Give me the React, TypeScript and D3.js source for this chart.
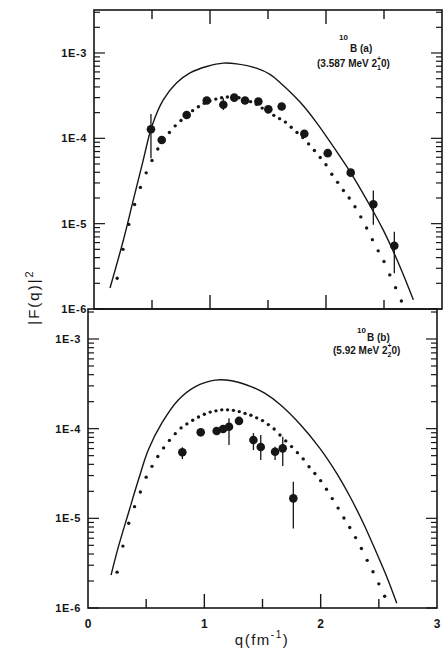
import React from 'react';
import * as d3 from 'd3';

const FONT = '"Liberation Sans Narrow", "Arial Narrow", "Liberation Sans", Arial, sans-serif';
const INK = '#161616';

// ---- panel (a): 10B, 3.587 MeV 2+ (1) 0 ----
// measured points, q in fm^-1 and |F(q)|^2
const aExpQ = [0.491, 0.584, 0.799, 0.972, 1.115, 1.209, 1.302, 1.417, 1.503, 1.618, 1.813, 2.015, 2.213, 2.408, 2.589];
const aExpF = [1.28e-4, 9.57e-5, 1.88e-4, 2.77e-4, 2.47e-4, 3.0e-4, 2.77e-4, 2.7e-4, 2.19e-4, 2.36e-4, 1.13e-4, 6.7e-5, 3.96e-5, 1.69e-5, 5.5e-6];
const aExpHi = [1.93e-4, null, null, null, 2.95e-4, null, null, null, null, null, null, null, null, 2.44e-5, 8.05e-6];
const aExpLo = [5.85e-5, null, null, null, 2.15e-4, null, null, null, null, null, null, null, null, 9.7e-6, 2.62e-6];

// solid calculation
const aSolidQ = [0.138, 0.253, 0.339, 0.425, 0.497, 0.597, 0.713, 0.828, 0.972, 1.115, 1.23, 1.40, 1.517, 1.603, 1.776, 1.92, 2.063, 2.207, 2.351, 2.494, 2.638, 2.753];
const aSolidF = [1.76e-6, 6.4e-6, 1.9e-5, 5.6e-5, 1.36e-4, 2.82e-4, 4.47e-4, 5.85e-4, 6.94e-4, 7.6e-4, 7.45e-4, 6.64e-4, 5.62e-4, 4.52e-4, 2.66e-4, 1.52e-4, 8.0e-5, 4.07e-5, 1.9e-5, 8.4e-6, 3.13e-6, 1.28e-6];

// dotted calculation
const aDotQ = [0.20, 0.25, 0.30, 0.35, 0.40, 0.45, 0.50, 0.55, 0.60, 0.65, 0.70, 0.75, 0.80, 0.85, 0.90, 0.95, 1.00, 1.05, 1.10, 1.15, 1.20, 1.25, 1.30, 1.35, 1.40, 1.45, 1.50, 1.55, 1.60, 1.65, 1.70, 1.75, 1.80, 1.85, 1.90, 1.95, 2.00, 2.05, 2.10, 2.15, 2.20, 2.25, 2.30, 2.35, 2.40, 2.45, 2.50, 2.55, 2.60, 2.65];
const aDotF = [2.29e-6, 5.0e-6, 9.8e-6, 1.68e-5, 2.66e-5, 3.94e-5, 5.5e-5, 7.5e-5, 9.55e-5, 1.17e-4, 1.40e-4, 1.62e-4, 1.88e-4, 2.11e-4, 2.34e-4, 2.57e-4, 2.75e-4, 2.88e-4, 2.99e-4, 3.05e-4, 3.05e-4, 2.99e-4, 2.85e-4, 2.69e-4, 2.51e-4, 2.26e-4, 2.04e-4, 1.86e-4, 1.70e-4, 1.55e-4, 1.35e-4, 1.17e-4, 1.02e-4, 8.6e-5, 7.2e-5, 5.96e-5, 4.9e-5, 3.8e-5, 3.05e-5, 2.45e-5, 2.0e-5, 1.58e-5, 1.2e-5, 8.9e-6, 6.5e-6, 4.8e-6, 3.6e-6, 2.51e-6, 1.78e-6, 1.24e-6];

// ---- panel (b): 10B, 5.92 MeV 2+ (2) 0 ----
const bExpQ = [0.811, 0.969, 1.106, 1.161, 1.212, 1.298, 1.422, 1.485, 1.608, 1.674, 1.765];
const bExpF = [5.45e-5, 9.1e-5, 9.4e-5, 9.9e-5, 1.05e-4, 1.22e-4, 7.46e-5, 6.24e-5, 5.52e-5, 6.03e-5, 1.67e-5];
const bExpHi = [6.2e-5, null, null, null, 1.31e-4, null, 8.9e-5, 8.5e-5, 6.3e-5, 8.1e-5, 2.56e-5];
const bExpLo = [4.6e-5, null, null, null, 6.56e-5, null, 5.77e-5, 4.47e-5, 4.47e-5, 3.83e-5, 7.7e-6];

const bSolidQ = [0.198, 0.261, 0.347, 0.433, 0.518, 0.634, 0.776, 0.920, 1.092, 1.236, 1.407, 1.522, 1.651, 1.823, 1.995, 2.138, 2.253, 2.367, 2.482, 2.568, 2.654];
const bSolidF = [2.33e-6, 4.8e-6, 1.14e-5, 2.67e-5, 5.77e-5, 1.15e-4, 2.09e-4, 2.93e-4, 3.48e-4, 3.42e-4, 2.93e-4, 2.47e-4, 1.86e-4, 1.12e-4, 6.0e-5, 3.18e-5, 1.74e-5, 8.8e-6, 4.07e-6, 2.23e-6, 1.13e-6];

const bDotQ = [0.25, 0.30, 0.35, 0.40, 0.45, 0.50, 0.55, 0.60, 0.65, 0.70, 0.75, 0.80, 0.85, 0.90, 0.95, 1.00, 1.05, 1.10, 1.15, 1.20, 1.25, 1.30, 1.35, 1.40, 1.45, 1.50, 1.55, 1.60, 1.65, 1.70, 1.75, 1.80, 1.85, 1.90, 1.95, 2.00, 2.05, 2.10, 2.15, 2.20, 2.25, 2.30, 2.35, 2.40, 2.45, 2.50, 2.55];
const bDotF = [2.51e-6, 4.9e-6, 8.8e-6, 1.35e-5, 1.97e-5, 2.88e-5, 3.8e-5, 4.9e-5, 6.1e-5, 7.4e-5, 8.8e-5, 1.02e-4, 1.13e-4, 1.24e-4, 1.35e-4, 1.45e-4, 1.53e-4, 1.58e-4, 1.62e-4, 1.62e-4, 1.60e-4, 1.55e-4, 1.48e-4, 1.41e-4, 1.32e-4, 1.23e-4, 1.11e-4, 9.9e-5, 8.5e-5, 7.3e-5, 6.31e-5, 5.4e-5, 4.6e-5, 3.76e-5, 3.16e-5, 2.63e-5, 2.11e-5, 1.66e-5, 1.3e-5, 1.01e-5, 7.9e-6, 6.1e-6, 4.6e-6, 3.4e-6, 2.54e-6, 1.86e-6, 1.35e-6];

// axes
const yTickValues = [1e-3, 1e-4, 1e-5, 1e-6];
const yTickLabels = ['1E-3', '1E-4', '1E-5', '1E-6'];
const xTickValues = [0, 1, 2, 3];
const xTickLabels = ['0', '1', '2', '3'];
const xInnerTicks = [0.5, 1, 1.5, 2, 2.5];

function Panel({ frame, expQ, expF, expHi, expLo, solidQ, solidF, dotQ, dotF, topTicks, showXLabels }) {
  const x = d3.scaleLinear().domain([0, 3]).range([frame.x0, frame.x1]);
  const y = d3.scaleLog().domain([1e-6, frame.fTop]).range([frame.y1, frame.y0]);

  const solidPath = d3.line<number>()
    .x((d, i) => x(solidQ[i]))
    .y(d => y(d))
    .curve(d3.curveCatmullRom.alpha(0.5))(solidF);

  const logTicks = y.ticks().filter(t => t >= 1e-6 && t <= frame.fTop);
  const isDecade = (t: number) => Math.abs(Math.log10(t) - Math.round(Math.log10(t))) < 1e-6;

  return (
    <g>
      {/* y ticks, both sides, pointing inward */}
      {logTicks.map((t, i) => {
        const len = isDecade(t) ? 11 : 6;
        return (
          <g key={'yt' + i} stroke={INK} strokeWidth={1.2}>
            <line x1={frame.x0} x2={frame.x0 + len} y1={y(t)} y2={y(t)} />
            <line x1={frame.x1} x2={frame.x1 - len} y1={y(t)} y2={y(t)} />
          </g>
        );
      })}
      {/* x ticks */}
      {xInnerTicks.map((t, i) => {
        const len = Number.isInteger(t) ? 14 : 9;
        return (
          <g key={'xt' + i} stroke={INK} strokeWidth={1.4}>
            <line x1={x(t)} x2={x(t)} y1={frame.y1} y2={frame.y1 - len} />
            {topTicks && <line x1={x(t)} x2={x(t)} y1={frame.y0} y2={frame.y0 + len} />}
          </g>
        );
      })}
      <rect x={frame.x0} y={frame.y0} width={frame.x1 - frame.x0} height={frame.y1 - frame.y0}
        fill="none" stroke={INK} strokeWidth={1.6} />

      {yTickValues.map((v, i) => (
        <text key={'yl' + i} x={frame.x0 - 7} y={y(v) + 4} textAnchor="end"
          fontFamily={FONT} fontWeight="bold" fontSize={11} letterSpacing={0.6} fill={INK}>
          {yTickLabels[i]}
        </text>
      ))}
      {showXLabels && xTickValues.map((v, i) => (
        <text key={'xl' + i} x={x(v)} y={frame.y1 + 20} textAnchor="middle"
          fontFamily={FONT} fontWeight="bold" fontSize={12} fill={INK}>
          {xTickLabels[i]}
        </text>
      ))}

      <path d={solidPath || ''} fill="none" stroke={INK} strokeWidth={1.4} />

      {dotF.map((f, i) => (
        <circle key={'d' + i} cx={x(dotQ[i])} cy={y(f)} r={1.7} fill={INK} />
      ))}

      {expF.map((f, i) => (
        <g key={'e' + i}>
          {expHi[i] != null && (
            <line x1={x(expQ[i])} x2={x(expQ[i])} y1={y(expHi[i])} y2={y(expLo[i])}
              stroke={INK} strokeWidth={1.3} />
          )}
          <circle cx={x(expQ[i])} cy={y(f)} r={4.3} fill={INK} />
        </g>
      ))}
    </g>
  );
}

export default function App() {
  const topFrame = { x0: 94, x1: 442, y0: 10, y1: 309, fTop: 3.19e-3 };
  const bottomFrame = { x0: 88, x1: 437, y0: 309, y1: 608, fTop: 2.16e-3 };

  return (
    <svg width={445} height={653} viewBox="0 0 445 653"
      style={{ position: 'absolute', left: 0, top: 0, background: '#fff' }}>
      <Panel frame={topFrame} expQ={aExpQ} expF={aExpF} expHi={aExpHi} expLo={aExpLo}
        solidQ={aSolidQ} solidF={aSolidF} dotQ={aDotQ} dotF={aDotF} topTicks={true} showXLabels={false} />
      <Panel frame={bottomFrame} expQ={bExpQ} expF={bExpF} expHi={bExpHi} expLo={bExpLo}
        solidQ={bSolidQ} solidF={bSolidF} dotQ={bDotQ} dotF={bDotF} topTicks={false} showXLabels={true} />

      {/* state labels */}
      <g fontFamily={FONT} fontWeight="bold" fill={INK}>
        <text x={339} y={40} fontSize={8}>10</text>
        <text x={350} y={52} fontSize={10}>B (a)</text>
        <text x={317} y={67} fontSize={10}>
          (3.587 MeV 2<tspan dy={3} fontSize={7}>1</tspan>
          <tspan dx={-4} dy={-9} fontSize={7}>+</tspan>
          <tspan dy={6} fontSize={10}>0)</tspan>
        </text>

        <text x={357} y={333} fontSize={8}>10</text>
        <text x={367} y={341} fontSize={10}>B (b)</text>
        <text x={333} y={354} fontSize={10}>
          (5.92 MeV 2<tspan dy={3} fontSize={7}>2</tspan>
          <tspan dx={-4} dy={-9} fontSize={7}>+</tspan>
          <tspan dy={6} fontSize={10}>0)</tspan>
        </text>
      </g>

      {/* axis titles */}
      <text transform="translate(39,297) rotate(-90)" textAnchor="middle" fontFamily={FONT}
        fontSize={15} fill={INK} letterSpacing={2}>
        |F(q)|<tspan dy={-6} fontSize={11}>2</tspan>
      </text>
      <text x={262} y={645} textAnchor="middle" fontFamily={FONT} fontSize={15} fill={INK} letterSpacing={1.5}>
        q(fm<tspan dy={-7} fontSize={10}>-1</tspan><tspan dy={7}>)</tspan>
      </text>
    </svg>
  );
}
